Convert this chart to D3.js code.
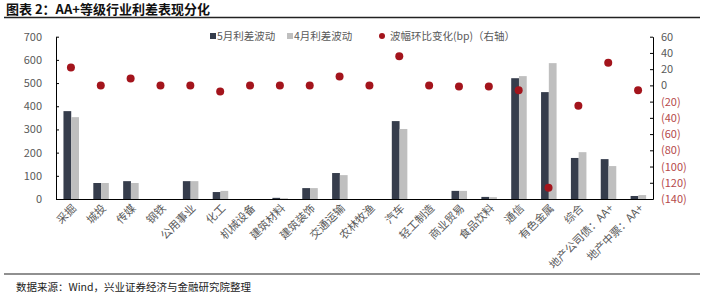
<!DOCTYPE html>
<html lang="zh">
<head>
<meta charset="utf-8">
<style>
  body { margin: 0; background: #fff; }
  svg text { font-family: "Noto Sans CJK SC", "DejaVu Sans", sans-serif; }
</style>
</head>
<body>
<script src="https://cdnjs.cloudflare.com/ajax/libs/d3/7.8.5/d3.min.js"></script>
<script>
// data
const categories = ["采掘", "城投", "传媒", "钢铁", "公用事业", "化工", "机械设备", "建筑材料", "建筑装饰", "交通运输",
  "农林牧渔", "汽车", "轻工制造", "商业贸易", "食品饮料", "通信", "有色金属", "综合", "地产公司债：AA+", "地产中票：AA+"];
const may = [379, 69, 77, 0, 77, 30, 0, 5, 47, 112, 0, 336, 0, 35, 9, 521, 461, 177, 172, 13];
const april = [353, 69, 69, 0, 77, 35, 0, 3, 47, 103, 0, 302, 0, 35, 8, 530, 586, 202, 142, 17];
const change = [22, 0, 8.5, 0, 0, -7.5, 0, 0, 0, 11, 0, 36, 0, -1.4, -1.4, -6, -126, -25, 28, -6];
const leftTicks = [0, 100, 200, 300, 400, 500, 600, 700];
const rightTicks = [60, 40, 20, 0, -20, -40, -60, -80, -100, -120, -140];
const seriesNames = ["5月利差波动", "4月利差波动", "波幅环比变化(bp)（右轴）"];

const W = 704, H = 298;
const pL = 56, pR = 653, pT = 36.7, pB = 199;
const darkCol = "#363d4c", lightCol = "#bfbfbf", dotCol = "#a3141c";

const svg = d3.select("body").append("svg").attr("width", W).attr("height", H);

// title and rules
svg.append("text").attr("x", 6).attr("y", 14).attr("font-size", 13).attr("font-weight", "bold")
  .attr("fill", "#111").text("图表 2：AA+等级行业利差表现分化");
svg.append("line").attr("x1", 4).attr("x2", 700).attr("y1", 17.5).attr("y2", 17.5)
  .attr("stroke", "#222").attr("stroke-width", 1.5);
svg.append("line").attr("x1", 4).attr("x2", 700).attr("y1", 274).attr("y2", 274)
  .attr("stroke", "#222").attr("stroke-width", 1.2);
svg.append("text").attr("x", 16).attr("y", 291).attr("font-size", 10.5).attr("fill", "#222")
  .text("数据来源：Wind，兴业证券经济与金融研究院整理");

// scales
const x = d3.scaleBand().domain(categories).range([pL, pR]);
const x1 = d3.scaleBand().domain(["may", "apr"]).range([x.bandwidth() * 0.25, x.bandwidth() * 0.77]);
const yL = d3.scaleLinear().domain([0, 700]).range([pB, pT]);
const yR = d3.scaleLinear().domain([-140, 60]).range([pB, pT]);

// bars
const g = svg.append("g");
g.selectAll(".may").data(categories).enter().append("rect")
  .attr("x", d => x(d) + x1("may")).attr("width", x1.bandwidth())
  .attr("y", (d, i) => yL(may[i])).attr("height", (d, i) => pB - yL(may[i]))
  .attr("fill", darkCol);
g.selectAll(".apr").data(categories).enter().append("rect")
  .attr("x", d => x(d) + x1("apr")).attr("width", x1.bandwidth())
  .attr("y", (d, i) => yL(april[i])).attr("height", (d, i) => pB - yL(april[i]))
  .attr("fill", lightCol);

// dots
g.selectAll("circle").data(categories).enter().append("circle")
  .attr("cx", d => x(d) + x.bandwidth() / 2).attr("cy", (d, i) => yR(change[i]))
  .attr("r", 4).attr("fill", dotCol);

// left axis
const axL = svg.append("g").attr("transform", `translate(${pL},0)`)
  .call(d3.axisLeft(yL).tickValues(leftTicks).tickSizeInner(-3).tickSizeOuter(0).tickPadding(14));
axL.select(".domain").attr("stroke", "#000");
axL.selectAll(".tick line").attr("stroke", "#000");
axL.selectAll("text").attr("font-size", 11).attr("fill", "#595959").attr("font-family", "Liberation Serif, serif");

// right axis
const axR = svg.append("g").attr("transform", `translate(${pR},0)`)
  .call(d3.axisRight(yR).tickValues(rightTicks).tickSizeInner(-3).tickSizeOuter(0).tickPadding(8)
    .tickFormat(d => d < 0 ? `(${-d})` : d));
axR.select(".domain").attr("stroke", "#000");
axR.selectAll(".tick line").attr("stroke", "#000");
axR.selectAll("text").attr("font-size", 11).attr("font-family", "Liberation Serif, serif")
  .attr("fill", d => d < 0 ? "#b5484a" : "#595959");

// bottom axis
const axB = svg.append("g").attr("transform", `translate(0,${pB})`)
  .call(d3.axisBottom(x).tickSize(0).tickSizeOuter(0).tickPadding(0));
axB.select(".domain").attr("stroke", "#000").attr("stroke-width", 1.2);
axB.selectAll("text").attr("font-size", 11).attr("fill", "#595959")
  .attr("text-anchor", "end").attr("dy", 0)
  .attr("transform", "translate(6,10) rotate(-45)");

// legend
const leg = svg.append("g").attr("font-size", 10.5);
leg.append("rect").attr("x", 210).attr("y", 33).attr("width", 6).attr("height", 6).attr("fill", darkCol);
leg.append("text").attr("x", 217).attr("y", 40).attr("fill", "#595959").text(seriesNames[0]);
leg.append("rect").attr("x", 287).attr("y", 33).attr("width", 6).attr("height", 6).attr("fill", lightCol);
leg.append("text").attr("x", 294).attr("y", 40).attr("fill", "#595959").text(seriesNames[1]);
leg.append("circle").attr("cx", 382).attr("cy", 36).attr("r", 3).attr("fill", dotCol);
leg.append("text").attr("x", 390).attr("y", 40).attr("fill", "#595959").text(seriesNames[2]);
</script>
</body>
</html>
